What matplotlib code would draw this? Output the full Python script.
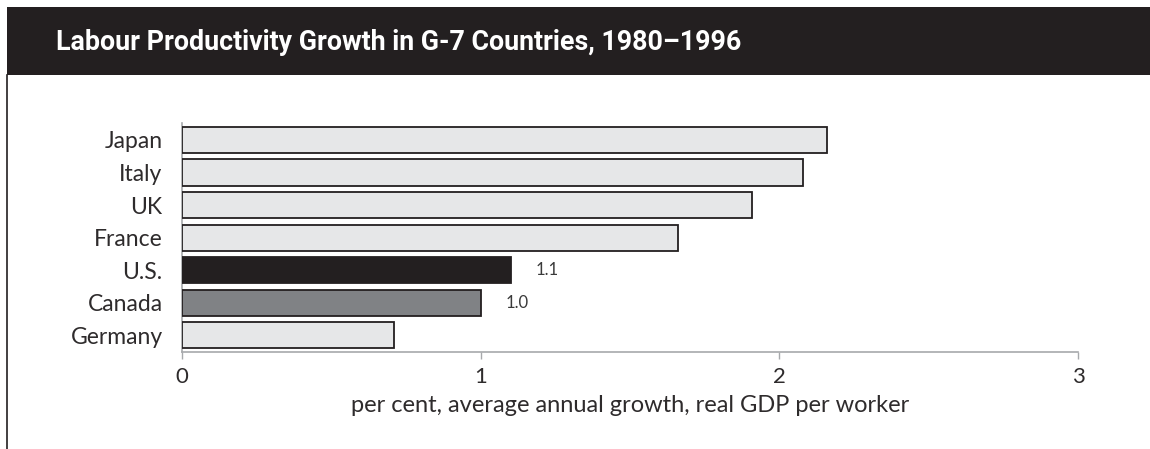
import matplotlib
matplotlib.use("Agg")
import matplotlib.pyplot as plt
from matplotlib.patches import Rectangle
from matplotlib.lines import Line2D

countries = ["Japan", "Italy", "UK", "France", "U.S.", "Canada", "Germany"]
growth = [2.16, 2.08, 1.91, 1.66, 1.10, 1.00, 0.71]
bar_colors = ["#e6e7e8", "#e6e7e8", "#e6e7e8", "#e6e7e8", "#231f20", "#808285", "#e6e7e8"]
value_labels = {"U.S.": "1.1", "Canada": "1.0"}
xticks = [0, 1, 2, 3]
title = "Labour Productivity Growth in G-7 Countries, 1980\u20131996"
xlabel = "per cent, average annual growth, real GDP per worker"

W, H = 1150, 449
fig = plt.figure(figsize=(W / 100, H / 100), dpi=100)
fig.patch.set_facecolor("white")
BODY = ["Lato", "DejaVu Sans"]
TXT = "#2e2b2c"

# title bar
fig.patches.append(Rectangle((7 / W, 1 - 75 / H), 1 - 7 / W, 68 / H,
                             transform=fig.transFigure, facecolor="#231f20",
                             edgecolor="none", zorder=0))
fig.lines.append(Line2D([7 / W, 7 / W], [0, 1 - 75 / H], transform=fig.transFigure,
                        color="#231f20", lw=1.2))
fig.text(56 / W, 1 - 42 / H, title, color="white", fontsize=19.3, fontweight="bold",
         family=["Roboto", "DejaVu Sans"], ha="left", va="center")

ax = fig.add_axes([182 / W, 97.3 / H, 896 / W, 228.7 / H])
y = list(range(len(countries)))
ax.barh(y, growth, height=0.8, color=bar_colors, edgecolor="#231f20", linewidth=1.3, zorder=3)
for i, (c, v) in enumerate(zip(countries, growth)):
    if c in value_labels:
        ax.text(v + 0.085, i, value_labels[c], ha="left", va="center", fontsize=12,
                color="#3a3a3a", family=BODY)

ax.set_xlim(0, 3)
ax.set_ylim(6.5, -0.52)
ax.set_yticks(y)
ax.set_yticklabels(countries)
ax.set_xticks(xticks)
ax.set_xticklabels([str(t) for t in xticks])
ax.tick_params(axis="y", length=0, pad=14, labelsize=16.5, labelcolor=TXT)
ax.tick_params(axis="x", length=5, width=1, color="#a7a9ac", pad=6, labelsize=16,
               labelcolor=TXT)
for lab in ax.get_xticklabels() + ax.get_yticklabels():
    lab.set_family(BODY)
ax.set_xlabel(xlabel, fontsize=17, color=TXT, labelpad=6, family=BODY)
for s in ["top", "right"]:
    ax.spines[s].set_visible(False)
for s in ["left", "bottom"]:
    ax.spines[s].set_color("#a7a9ac")
    ax.spines[s].set_linewidth(1.2)

fig.savefig("out.png", dpi=100)
